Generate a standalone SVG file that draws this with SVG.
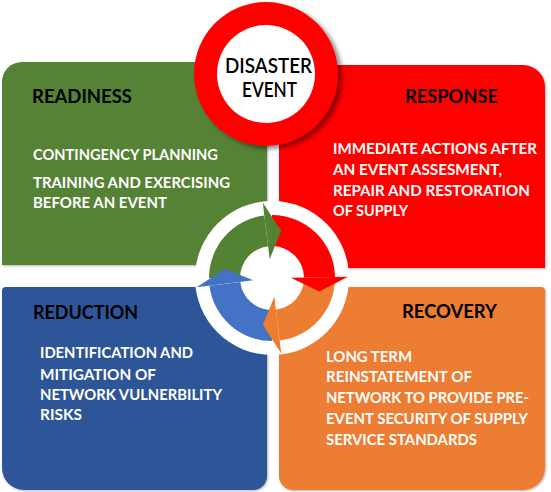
<svg xmlns="http://www.w3.org/2000/svg" width="551" height="492" viewBox="0 0 551 492">
<defs>
<style>
.head{font-family:Lato,"Liberation Sans",sans-serif;font-weight:bold;font-size:18px;fill:#000}
.body{font-family:Lato,"Liberation Sans",sans-serif;font-weight:bold;font-size:15px;fill:#fff}
.title{font-family:Lato,"Liberation Sans",sans-serif;font-weight:600;font-size:21px;fill:#000}
</style>
<filter id="sh" x="-5%" y="-5%" width="110%" height="110%">
<feDropShadow dx="1" dy="1" stdDeviation="0.8" flood-color="#000" flood-opacity="0.3"/>
</filter>
<filter id="sh2" x="-20%" y="-20%" width="140%" height="140%">
<feDropShadow dx="4" dy="3" stdDeviation="2" flood-color="#000" flood-opacity="0.45"/>
</filter>
</defs>
<rect width="551" height="492" fill="#fff"/>

<g id="readiness">
<path d="M22 62H267V265H2V82A20 20 0 0 1 22 62Z" fill="#548235" filter="url(#sh)"/>
<text class="head" x="32" y="103" textLength="100" lengthAdjust="spacingAndGlyphs">READINESS</text>
<text class="body" x="33" y="160" textLength="185" lengthAdjust="spacingAndGlyphs">CONTINGENCY PLANNING</text>
<text class="body" x="33" y="188" textLength="197" lengthAdjust="spacingAndGlyphs">TRAINING AND EXERCISING</text>
<text class="body" x="33" y="208" textLength="134" lengthAdjust="spacingAndGlyphs">BEFORE AN EVENT</text>
</g>

<g id="response">
<path d="M279 65H523A22 22 0 0 1 545 87V268H279Z" fill="#ff0000" filter="url(#sh)"/>
<text class="head" x="405" y="103" textLength="93" lengthAdjust="spacingAndGlyphs">RESPONSE</text>
<text class="body" x="333" y="154" textLength="204" lengthAdjust="spacingAndGlyphs">IMMEDIATE ACTIONS AFTER</text>
<text class="body" x="333" y="175" textLength="169" lengthAdjust="spacingAndGlyphs">AN EVENT ASSESMENT,</text>
<text class="body" x="333" y="196" textLength="197" lengthAdjust="spacingAndGlyphs">REPAIR AND RESTORATION</text>
<text class="body" x="333" y="216" textLength="75" lengthAdjust="spacingAndGlyphs">OF SUPPLY</text>
</g>

<g id="reduction">
<path d="M6 287H267V476A14 14 0 0 1 253 490H24A22 22 0 0 1 2 468V291A4 4 0 0 1 6 287Z" fill="#2f5597" filter="url(#sh)"/>
<text class="head" x="33" y="319" textLength="105" lengthAdjust="spacingAndGlyphs">REDUCTION</text>
<text class="body" x="40" y="358" textLength="153" lengthAdjust="spacingAndGlyphs">IDENTIFICATION AND</text>
<text class="body" x="40" y="380" textLength="116" lengthAdjust="spacingAndGlyphs">MITIGATION OF</text>
<text class="body" x="40" y="400" textLength="182" lengthAdjust="spacingAndGlyphs">NETWORK VULNERBILITY</text>
<text class="body" x="40" y="420" textLength="42" lengthAdjust="spacingAndGlyphs">RISKS</text>
</g>

<g id="recovery">
<path d="M279 287H541A4 4 0 0 1 545 291V468A22 22 0 0 1 523 490H293A14 14 0 0 1 279 476Z" fill="#ed7d31" filter="url(#sh)"/>
<text class="head" x="402" y="318" textLength="95" lengthAdjust="spacingAndGlyphs">RECOVERY</text>
<text class="body" x="326" y="362" textLength="86" lengthAdjust="spacingAndGlyphs">LONG TERM</text>
<text class="body" x="326" y="382" textLength="146" lengthAdjust="spacingAndGlyphs">REINSTATEMENT OF</text>
<text class="body" x="326" y="403" textLength="203" lengthAdjust="spacingAndGlyphs">NETWORK TO PROVIDE PRE-</text>
<text class="body" x="326" y="424" textLength="202" lengthAdjust="spacingAndGlyphs">EVENT SECURITY OF SUPPLY</text>
<text class="body" x="326" y="445" textLength="151" lengthAdjust="spacingAndGlyphs">SERVICE STANDARDS</text>
</g>

<g id="cycle-background">
<circle cx="272" cy="278" r="77" fill="#fff"/>
</g>

<g id="connectors">
<g id="shafts">
<path d="M209 278A63 63 0 0 1 264.32 215.47L268.10 246.24A32 32 0 0 0 240 278Z" fill="#548235"/>
<path d="M272 215A63 63 0 0 1 334.99 276.90L304.00 277.44A32 32 0 0 0 272 246Z" fill="#ff0000"/>
<path d="M335 278A63 63 0 0 1 279.68 340.53L275.90 309.76A32 32 0 0 0 304 278Z" fill="#ed7d31"/>
<path d="M272 341A63 63 0 0 1 209.47 285.68L240.24 281.90A32 32 0 0 0 272 310Z" fill="#4472c4"/>
</g>
<g id="heads">
<path d="M262.74 202.57L281.16 230.88L269.68 259.14Z" fill="#548235"/>
<path d="M347.99 276.67L319.10 291.51L291.00 277.67Z" fill="#ff0000"/>
<path d="M281.26 353.43L262.84 325.12L274.32 296.86Z" fill="#ed7d31"/>
<path d="M196.57 287.26L224.88 268.84L253.14 280.32Z" fill="#4472c4"/>
</g>
</g>

<g id="disaster-event">
<circle cx="266" cy="74" r="72" fill="#ff0000" filter="url(#sh2)"/>
<circle cx="266" cy="74" r="49" fill="#fff"/>
<text class="title" x="225" y="73" textLength="87" lengthAdjust="spacingAndGlyphs">DISASTER</text>
<text class="title" x="242" y="97" textLength="55" lengthAdjust="spacingAndGlyphs">EVENT</text>
</g>
</svg>
